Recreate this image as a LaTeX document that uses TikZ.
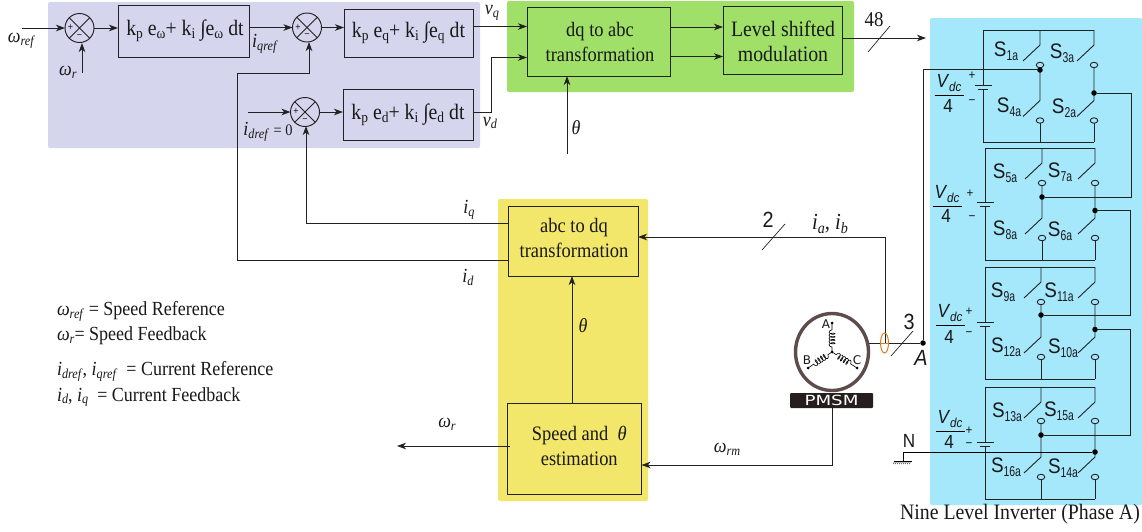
\documentclass[tikz,border=0pt]{standalone}
\usepackage{fontspec}
\setmainfont[FakeStretch=0.9]{Liberation Serif}
\newfontfamily\sansf[FakeStretch=0.9]{Liberation Sans}
\newfontfamily\djf{DejaVu Sans}
\usetikzlibrary{arrows.meta,decorations.pathmorphing,calc,shapes.geometric}
\definecolor{pbg}{HTML}{D5D5EE}
\definecolor{gbg}{HTML}{A0E068}
\definecolor{ybg}{HTML}{F3E76B}
\definecolor{bbg}{HTML}{A5E7FB}
\definecolor{mot}{HTML}{5E4C4A}
\definecolor{wire}{HTML}{222222}
\definecolor{orng}{HTML}{E07B20}
\newcommand{\sbs}[1]{\raisebox{-.32ex}{\scalebox{.68}{#1}}}
\newcommand{\sbn}[1]{\raisebox{-.4ex}{\scalebox{.55}[.68]{#1}}}
\newcommand{\vr}[2]{\textit{#1}\sbs{\textit{#2}}}
\tikzset{
  x=1pt,y=-1pt,
  every node/.style={font=\fontsize{20}{22}\selectfont,inner sep=0pt,outer sep=0pt,text=black!90},
  line width=.9pt,
  panel/.style={rounded corners=2pt,draw=none},
  blockbox/.style={draw=wire,line width=.95pt,anchor=north west,align=center},
  summer/.style={circle,draw=wire,line width=.95pt,minimum size=29pt},
  conn/.style={draw=wire,line width=.9pt},
  arr/.style={conn,-{Stealth[length=9pt,width=6.5pt,inset=2.5pt]}},
  slash/.style={draw=wire,line width=.7pt},
  dotn/.style={circle,fill=black,minimum size=5.5pt},
  open/.style={ellipse,draw=wire,fill=bbg,line width=.9pt,minimum width=7.5pt,minimum height=5.5pt},
  swl/.style={font=\fontsize{21}{22}\sansf\selectfont},
  vdc/.style={font=\fontsize{19}{20}\sansf\selectfont},
  small/.style={font=\fontsize{13}{13}\sansf\selectfont},
  lbl/.style={font=\fontsize{20}{22}\selectfont},
  boxt/.style={font=\fontsize{20.5}{25}\selectfont},
  boxk/.style={font=\fontsize{22}{25}\selectfont},
  boxl/.style={font=\fontsize{22}{25}\selectfont},
}
\newcommand{\blk}[9]{\node[blockbox,minimum width=#4pt,minimum height=#5pt] (#1) at (#2,#3) {};
  \node[#6,align=center] (#1t) at ($(#1)+(#8,#9)$) {#7};}
\newcommand{\cell}[9]{%
  \coordinate (#1tl) at (#2,#5); \coordinate (#1tm) at (#3,#5); \coordinate (#1tr) at (#4,#5);
  \coordinate (#1bl) at (#2,#8); \coordinate (#1bm) at (#3,#8); \coordinate (#1br) at (#4,#8);
  \node[open] (#1a) at (#3,#6) {};
  \node[open] (#1b) at (#4,#6) {};
  \node[open] (#1c) at (#3,#7) {};
  \node[open] (#1d) at (#4,#7) {};
  \draw[conn] (#1tl) -- (#1tr);
  \draw[conn] (#1bl) -- (#1br);
  \draw[conn] (#1tm) -- ++(0,15) -- ++(-17,16);
  \draw[conn] (#1tr) -- ++(0,15) -- ++(-17,16);
  \draw[conn] (#1a) -- ($(#1c)+(0,-20)$) -- ++(-17,16);
  \draw[conn] (#1b) -- ($(#1d)+(0,-20)$) -- ++(-17,16);
  \draw[conn] (#1c) -- (#1bm);
  \draw[conn] (#1d) -- (#1br);
  \draw[conn] (#1tl) -- (#2,#9);
  \draw[conn] (#2,#9+4) -- (#1bl);
  \draw[draw=wire,line width=1pt] (#2-8.5,#9) -- (#2+8.5,#9);
  \draw[draw=wire,line width=1pt] (#2-5,#9+4) -- (#2+5,#9+4);
}
\begin{document}
\begin{tikzpicture}
\useasboundingbox (0,0) rectangle (1142,531);
% panels
\fill[pbg,panel] (48,2) rectangle (480,148);
\fill[gbg,panel] (507,1) rectangle (854,92);
\fill[ybg,panel] (498,199) rectangle (648,501);
\fill[bbg,panel] (930,18) rectangle (1142,505);

% summers
\node[summer] (s1) at (79.5,28) {};
\node[summer] (s2) at (307,27.5) {};
\node[summer] (s3) at (305,112) {};
\foreach \s in {s1,s2,s3}{
  \draw[conn] (\s.north west) -- (\s.south east);
  \draw[conn] (\s.north east) -- (\s.south west);
  \node[font=\fontsize{10}{10}\sansf\selectfont] at ($(\s)+(-9,0)$) {+};
  \node[font=\fontsize{10}{10}\sansf\selectfont] at ($(\s)+(0,8.5)$) {−};
}
% control blocks
\blk{b1}{118}{5}{131}{52}{boxk}{k\sbs{p} e\sbs{ω}+ k\sbs{i} ∫e\sbs{ω} dt}{1.5}{0}
\blk{b2}{344}{9}{129}{48}{boxk}{k\sbs{p} e\sbs{q}+ k\sbs{i} ∫e\sbs{q} dt}{0}{0}
\blk{b3}{343}{89}{130}{51}{boxk}{k\sbs{p} e\sbs{d}+ k\sbs{i} ∫e\sbs{d} dt}{0}{0}
\blk{dq}{527}{7}{143}{69}{boxt}{dq to abc\\transformation}{1.5}{0.5}
\blk{lm}{723}{6}{119}{68}{boxl}{Level shifted\\modulation}{0.5}{1}
\blk{ad}{508}{206}{130}{70}{boxt}{abc to dq\\transformation}{1}{-3}
\blk{se}{507}{403}{134.5}{91}{boxt}{\hspace*{10pt}Speed and~~\textit{θ}\\\hspace*{10pt}estimation}{0}{-2.5}

% free ends
\coordinate (wref) at (22,28);
\coordinate (wrin) at (82,73);
\coordinate (idin) at (248,112);
\coordinate (tin) at (567,154);
\coordinate (wrout) at (397,446);
\coordinate (invin) at (926,38);

\draw[arr] (wref) -- (s1);
\draw[arr] (wrin) -- (82,43);
\draw[arr] (s1) ++(14.5,0) -- (b1.west |- s1);
\draw[arr] (b1.east |- s2) -- (s2.west);
\draw[arr] (s2.east) -- (b2.west |- s2);
\draw[arr] (idin) -- (s3.west);
\draw[arr] (s3.east) -- (b3.west |- s3);
\draw[arr] (b2.east |- 0,26.5) -- (dq.west |- 0,26.5);
\draw[arr] (b3.east |- s3) -- (491.5,112) -- (491.5,57.5) -- (dq.west |- 0,57.5);
\draw[arr] (dq.east |- 0,27) -- (lm.west |- 0,27);
\draw[arr] (dq.east |- 0,56.5) -- (lm.west |- 0,56.5);
\draw[arr] (tin) -- (567,76);
\draw[arr] (lm.east |- 0,38) -- (invin);
\draw[slash] (868,52) -- (890,26);

\draw[arr] (ad.west |- 0,223) -- (306,223) -- (306,126);
\draw[arr] (ad.west |- 0,260) -- (237,260) -- (237,73) -- (309,73) -- (309,42);
\draw[arr] (se.north -| 572,0) -- (572,276);
\draw[arr] (se.west |- wrout) ++(3,0) -- (wrout);

% labels
\node[lbl] at (21.5,41) {\vr{ω}{ref}};
\node[lbl] at (68,72) {\vr{ω}{r}};
\node[lbl] at (265,44) {\vr{i}{qref}};
\node[lbl] at (268,132) {\vr{i}{dref} \fontsize{16}{16}\selectfont = 0};
\node[lbl] at (492,13) {\vr{v}{q}};
\node[lbl] at (490,123) {\vr{v}{d}};
\node[lbl] at (576,128) {\textit{θ}};
\node[font=\fontsize{21}{22}\selectfont] at (874,20) {48};
\node[lbl] at (469,210) {\vr{i}{q}};
\node[lbl] at (468,277) {\vr{i}{d}};
\node[lbl] at (583,326) {\textit{θ}};
\node[lbl] at (447,424) {\vr{ω}{r}};
\node[lbl] at (727,449) {\vr{ω}{rm}};
\node[font=\fontsize{22}{22}\sansf\selectfont] at (768,220) {2};
\node[font=\fontsize{23}{23}\selectfont] at (830,224) {\vr{i}{a}, \vr{i}{b}};
\draw[slash] (762,250) -- (785,224);

% legend
\node[lbl,anchor=west] at (57,311) {\vr{ω}{ref} = Speed Reference};
\node[lbl,anchor=west] at (57,336) {\vr{ω}{r}= Speed Feedback};
\node[lbl,anchor=west] at (57,371) {\vr{i}{dref}, \vr{i}{qref}\ \ = Current Reference};
\node[lbl,anchor=west] at (57,397) {\vr{i}{d}, \vr{i}{q}\ \ = Current Feedback};

% motor
\node[ellipse,draw=mot,line width=3.4pt,fill=white,minimum width=73pt,minimum height=77pt,inner sep=0pt] (mo) at (832,352) {};
\coordinate (mc) at (832,352);
\coordinate (ma) at (832,323);
\coordinate (mb) at (808,368);
\coordinate (mcc) at (857,368);
\tikzset{coilst/.style={draw=black,line width=.6pt,decorate,decoration={coil,aspect=.45,amplitude=3pt,segment length=3.2pt,pre length=5pt,post length=5pt}}}
\draw[coilst] (mc) -- (ma);
\draw[coilst] (mc) -- (mb);
\draw[coilst] (mc) -- (mcc);
\foreach \p in {mc,ma,mb,mcc}{\fill[black] (\p) circle (1.5);}
\node[font=\fontsize{12}{12}\djf\selectfont] at (826,324) {A};
\node[font=\fontsize{12}{12}\djf\selectfont] at (807,360) {B};
\node[font=\fontsize{12}{12}\djf\selectfont] at (857,360) {C};
\node[fill=mot!40!black,rounded corners=1pt,minimum width=83pt,minimum height=15pt,text=white,font=\fontsize{14}{14}\djf\selectfont] (pm) at (831.5,400.5) {\scalebox{1.3}[1]{PMSM}};

\draw[arr] (pm.south -| mc) -- (832,465) -- (se.east |- 0,465);
\node[dotn] (aj) at (923,343) {};
\draw[conn] (mo.east |- 0,343) -- (aj);
\draw[conn] (aj) -- (923,69) -- (1040,69);
\draw[arr] (885,343) -- (885,237) -- (ad.east |- 0,237);
\draw[orng,line width=1pt] (884.5,343) ellipse (4 and 10);
\draw[orng,line width=1pt] (881,343) -- (888,343);
\draw[slash] (891,356) -- (913,331);
\node[font=\fontsize{22}{22}\sansf\selectfont] at (909,322) {3};
\node[font=\fontsize{22}{22}\sansf\itshape\selectfont] at (921,358) {A};

% inverter
\cell{c1}{983}{1040}{1094}{30}{65}{120.5}{142}{85}
\cell{c2}{985}{1042}{1095}{148}{183}{238}{260}{202}
\cell{c3}{985}{1041}{1095}{267}{302}{357}{379}{322}
\cell{c4}{985}{1041}{1095}{387}{421}{477}{499}{442}

\node[dotn] (d1l) at (1040,70) {};
\node[dotn] (d1r) at (1094,93) {};
\node[dotn] (d2l) at (1042,197) {};
\node[dotn] (d2r) at (1095,210.5) {};
\node[dotn] (d3l) at (1041,315) {};
\node[dotn] (d3r) at (1095,329.5) {};
\node[dotn] (d4l) at (1041,435) {};
\node[dotn] (d4r) at (1095,452) {};
\draw[conn] (d1r) -- (1131,93) -- (1131,197) -- (d2l);
\draw[conn] (d2r) -- (1130,210.5) -- (1130,315) -- (d3l);
\draw[conn] (d3r) -- (1130,329.5) -- (1130,435) -- (d4l);
\coordinate (gnd) at (903,461);
\draw[conn,draw=black] (d4r) -- (903,452) -- (gnd);
\draw[conn,draw=black] (894,461) -- (912,461);
\foreach \i in {0,...,8}{\draw[black,line width=.5pt] (894.5+2*\i,461) -- ++(-1,3);}
\node[font=\fontsize{19}{19}\sansf\selectfont] at (909,441) {N};

% switch labels
\newcommand{\swl}[4]{\node[swl] (#1) at (#2,#3) {S\sbn{#4}};}
\swl{l1}{1006}{51}{1a}\swl{l3}{1062}{53}{3a}\swl{l4}{1009}{107}{4a}\swl{l2}{1064}{108}{2a}
\swl{l5}{1005}{173}{5a}\swl{l7}{1060}{172}{7a}\swl{l8}{1005}{230}{8a}\swl{l6}{1060}{231}{6a}
\swl{l9}{1003}{292}{9a}\swl{l11}{1059}{292}{11a}\swl{l12}{1006}{347}{12a}\swl{l10}{1063}{348}{10a}
\swl{l13}{1007}{412}{13a}\swl{l15}{1059}{411}{15a}\swl{l16}{1006}{467}{16a}\swl{l14}{1063}{468}{14a}

% Vdc labels
\newcommand{\vd}[8]{%
  \node[vdc] at (#1,#2) {\textit{V}\sbs{\textit{dc}}};
  \draw[black,line width=.9pt] (#1-14.5,#3) -- (#1+14.5,#3);
  \node[vdc] at (#1-1,#4) {4};
  \node[small] at (#5,#6) {+};
  \node[small] at (#7,#8) {−};}
\vd{949}{83}{95}{106}{972}{76}{972}{102}
\vd{947}{194}{206}{216}{970}{194}{972}{218}
\vd{950}{313}{325}{337}{969}{312}{969}{334}
\vd{950}{419}{431}{442}{969}{431}{969}{445}

\node[font=\fontsize{22}{22}\selectfont] at (1020,514) {Nine Level Inverter (Phase A)};
\end{tikzpicture}
\end{document}
